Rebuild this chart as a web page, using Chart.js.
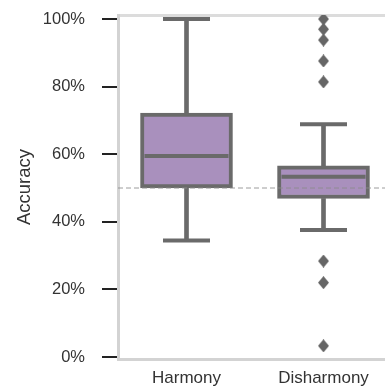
<!DOCTYPE html>
<html>
<head>
<meta charset="utf-8">
<script src="https://cdn.jsdelivr.net/npm/chart.js@4.4.0/dist/chart.umd.min.js"></script>
<style>
  html, body { margin: 0; padding: 0; overflow: hidden; background: #fff; }
  canvas { display: block; }
</style>
</head>
<body>
<canvas id="accChart" width="392" height="386"></canvas>
<script>
// 箱ひげ図のデータ (読み取り値, %)
const categories = ['Harmony', 'Disharmony'];
const q1 = [50.0, 46.9];
const median = [59.5, 53.3];
const q3 = [72.2, 56.6];
const whiskerLow = [34.5, 37.6];
const whiskerHigh = [100, 68.9];
const outliers = [[], [100, 97, 93.8, 87.6, 81.4, 28.4, 22, 3.3]];
const yTicks = [0, 20, 40, 60, 80, 100];
const refLine = 50;

const EDGE = '#6a6a6a';
const FILL = '#a990bd';

// 外れ値のひし形マーカー
const diamond = document.createElement('canvas');
diamond.width = 11;
diamond.height = 13;
(() => {
    const c = diamond.getContext('2d');
    c.fillStyle = '#666';
    c.beginPath();
    c.moveTo(5.5, 0);
    c.lineTo(11, 6.5);
    c.lineTo(5.5, 13);
    c.lineTo(0, 6.5);
    c.closePath();
    c.fill();
})();

// 50% の参照線
const refLinePlugin = {
    id: 'refLine',
    afterDatasetsDraw(chart) {
        const { ctx, chartArea, scales } = chart;
        const y = scales.y.getPixelForValue(refLine);
        ctx.save();
        ctx.strokeStyle = 'rgba(140,140,140,0.85)';
        ctx.lineWidth = 1;
        ctx.setLineDash([5, 3]);
        ctx.beginPath();
        ctx.moveTo(chartArea.left, y);
        ctx.lineTo(chartArea.right, y);
        ctx.stroke();
        ctx.restore();
    }
};

const data = {
    labels: categories,
    datasets: [
        {
            type: 'line',
            label: 'outliers',
            data: outliers.flatMap((vals, i) => vals.map(v => ({ x: categories[i], y: v }))),
            showLine: false,
            pointStyle: diamond,
            order: 0
        },
        {
            type: 'line',
            label: 'median',
            data: median,
            showLine: false,
            pointStyle: 'line',
            pointRadius: 42,
            pointBorderWidth: 4,
            pointBorderColor: EDGE,
            order: 1
        },
        {
            type: 'line',
            label: 'capHigh',
            data: whiskerHigh,
            showLine: false,
            pointStyle: 'line',
            pointRadius: 23.5,
            pointBorderWidth: 4,
            pointBorderColor: EDGE,
            order: 2
        },
        {
            type: 'line',
            label: 'capLow',
            data: whiskerLow,
            showLine: false,
            pointStyle: 'line',
            pointRadius: 23.5,
            pointBorderWidth: 4,
            pointBorderColor: EDGE,
            order: 2
        },
        {
            type: 'bar',
            label: 'box',
            data: categories.map((c, i) => [q1[i], q3[i]]),
            backgroundColor: FILL,
            borderColor: EDGE,
            borderWidth: 4,
            borderSkipped: false,
            barThickness: 92,
            grouped: false,
            order: 3
        },
        {
            type: 'bar',
            label: 'whiskerHigh',
            data: categories.map((c, i) => [q3[i], whiskerHigh[i]]),
            backgroundColor: EDGE,
            borderWidth: 0,
            barThickness: 4,
            grouped: false,
            order: 4
        },
        {
            type: 'bar',
            label: 'whiskerLow',
            data: categories.map((c, i) => [whiskerLow[i], q1[i]]),
            backgroundColor: EDGE,
            borderWidth: 0,
            barThickness: 4,
            grouped: false,
            order: 4
        }
    ]
};

const config = {
    type: 'bar',
    data: data,
    plugins: [refLinePlugin],
    options: {
        responsive: false,
        animation: false,
        events: [],
        layout: { autoPadding: false, padding: { top: 15, left: 0, right: 0, bottom: 0 } },
        plugins: {
            legend: { display: false },
            tooltip: { enabled: false }
        },
        scales: {
            x: {
                type: 'category',
                position: 'bottom',
                grid: { display: false, drawTicks: false },
                border: { color: '#d3d3d3', width: 3 },
                ticks: {
                    color: '#333',
                    font: { family: 'Liberation Sans, Arial, sans-serif', size: 17 },
                    padding: 9,
                    maxRotation: 0
                },
                afterFit(scale) {
                    scale.height = 27;
                    scale.paddingLeft = 0;
                    scale.paddingRight = 0;
                }
            },
            x2: {
                type: 'category',
                position: 'top',
                grid: { display: false, drawTicks: false },
                border: { color: '#dcdcdc', width: 3 },
                ticks: { display: false },
                afterFit(scale) { scale.height = 0; }
            },
            y: {
                min: -0.6,
                max: 101.2,
                afterBuildTicks(scale) {
                    scale.ticks = yTicks.map(v => ({ value: v }));
                },
                grid: {
                    drawOnChartArea: false,
                    color: '#222',
                    lineWidth: 2,
                    tickLength: 16
                },
                border: { color: '#d3d3d3', width: 3 },
                ticks: {
                    color: '#333',
                    font: { family: 'Liberation Sans, Arial, sans-serif', size: 16.5 },
                    padding: 17,
                    callback: v => v + '%'
                },
                title: {
                    display: true,
                    text: 'Accuracy',
                    color: '#333',
                    font: { family: 'Liberation Sans, Arial, sans-serif', size: 18.5 },
                    padding: { top: 13.5, bottom: 0 }
                },
                afterFit(scale) {
                    scale.width = 118;
                    scale.paddingTop = 0;
                    scale.paddingBottom = 0;
                }
            }
        }
    }
};

const ctx = document.getElementById('accChart').getContext('2d');
new Chart(ctx, config);
</script>
</body>
</html>
